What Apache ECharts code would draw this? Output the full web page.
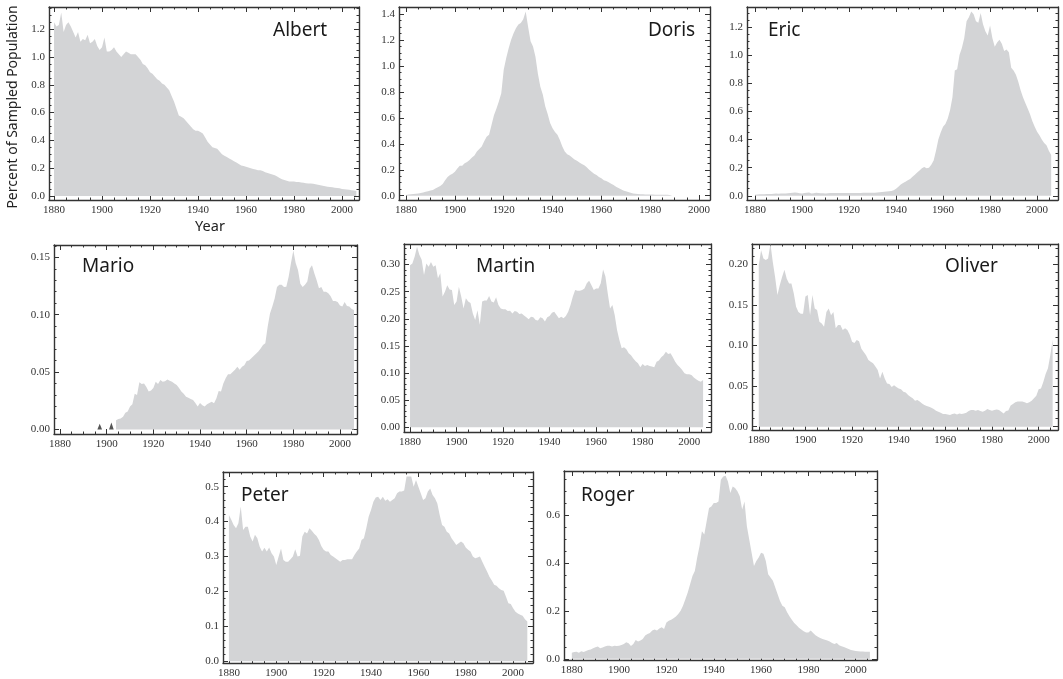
<!DOCTYPE html>
<html>
<head>
<meta charset="utf-8">
<script src="https://cdn.jsdelivr.net/npm/echarts@6/dist/echarts.min.js"></script>
<style>
  html, body { margin: 0; padding: 0; background: #fff; }
  #chart { width: 1063px; height: 679px; }
</style>
</head>
<body>
<div id="chart"></div>
<script>
// percent of sampled population, one value per year
var albertStart = 1880
var albert = [
  1.25, 1.22, 1.23, 1.32, 1.18, 1.23, 1.25, 1.22, 1.18, 1.14,
  1.18, 1.11, 1.13, 1.12, 1.16, 1.10, 1.11, 1.13, 1.08, 1.05,
  1.07, 1.14, 1.04, 1.04, 1.05, 1.07, 1.04, 1.02, 1.00, 1.02,
  1.04, 1.03, 1.02, 1.02, 1.02, 1.00, 0.98, 0.95, 0.94, 0.92,
  0.89, 0.88, 0.86, 0.84, 0.83, 0.81, 0.80, 0.78, 0.76, 0.72,
  0.68, 0.63, 0.58, 0.57, 0.56, 0.54, 0.52, 0.50, 0.48, 0.47,
  0.47, 0.46, 0.45, 0.42, 0.39, 0.37, 0.35, 0.345, 0.34, 0.32,
  0.30, 0.29, 0.28, 0.27, 0.26, 0.25, 0.24, 0.23, 0.22, 0.215,
  0.21, 0.205, 0.20, 0.195, 0.19, 0.185, 0.185, 0.18, 0.17, 0.165,
  0.16, 0.155, 0.15, 0.14, 0.13, 0.12, 0.115, 0.11, 0.105, 0.105,
  0.105, 0.10, 0.10, 0.097, 0.095, 0.092, 0.09, 0.09, 0.088, 0.085,
  0.08, 0.077, 0.073, 0.07, 0.067, 0.065, 0.062, 0.06, 0.057, 0.055,
  0.05, 0.049, 0.047, 0.045, 0.042, 0.039, 0.036
]
var dorisStart = 1880
var doris = [
  0.006, 0.01, 0.012, 0.014, 0.016, 0.018, 0.02, 0.025, 0.03, 0.035,
  0.04, 0.045, 0.055, 0.065, 0.075, 0.09, 0.12, 0.145, 0.16, 0.17,
  0.185, 0.21, 0.23, 0.23, 0.25, 0.26, 0.275, 0.295, 0.31, 0.34,
  0.36, 0.38, 0.42, 0.455, 0.47, 0.545, 0.62, 0.67, 0.725, 0.79,
  0.97, 1.06, 1.135, 1.20, 1.25, 1.29, 1.32, 1.33, 1.36, 1.42,
  1.30, 1.19, 1.15, 1.07, 0.94, 0.84, 0.78, 0.69, 0.63, 0.56,
  0.52, 0.49, 0.47, 0.43, 0.38, 0.34, 0.32, 0.31, 0.295, 0.28,
  0.27, 0.255, 0.245, 0.235, 0.22, 0.20, 0.185, 0.17, 0.16, 0.145,
  0.135, 0.12, 0.113, 0.103, 0.093, 0.083, 0.07, 0.06, 0.05, 0.04,
  0.035, 0.028, 0.022, 0.018, 0.015, 0.013, 0.012, 0.011, 0.010, 0.010,
  0.009, 0.009, 0.008, 0.008, 0.008, 0.007, 0.007, 0.007, 0.006, 0.006
]
var ericStart = 1880
var eric = [
  0.008, 0.009, 0.01, 0.01, 0.011, 0.012, 0.012, 0.013, 0.015, 0.016,
  0.015, 0.016, 0.017, 0.016, 0.018, 0.019, 0.021, 0.024, 0.022, 0.018,
  0.017, 0.02, 0.022, 0.024, 0.016, 0.018, 0.021, 0.019, 0.018, 0.018,
  0.017, 0.018, 0.02, 0.02, 0.019, 0.019, 0.019, 0.02, 0.019, 0.019,
  0.019, 0.02, 0.02, 0.02, 0.02, 0.02, 0.021, 0.021, 0.021, 0.021,
  0.022, 0.022, 0.023, 0.025, 0.027, 0.028, 0.03, 0.032, 0.034, 0.04,
  0.05, 0.065, 0.08, 0.09, 0.10, 0.11, 0.12, 0.135, 0.15, 0.165,
  0.18, 0.195, 0.205, 0.195, 0.20, 0.22, 0.25, 0.32, 0.40, 0.45,
  0.49, 0.51, 0.55, 0.61, 0.70, 0.89, 0.90, 1.00, 1.05, 1.12,
  1.24, 1.27, 1.31, 1.29, 1.24, 1.23, 1.30, 1.22, 1.17, 1.14,
  1.21, 1.12, 1.06, 1.09, 1.11, 1.08, 1.03, 1.04, 1.02, 0.91,
  0.89, 0.86, 0.81, 0.75, 0.70, 0.66, 0.62, 0.58, 0.53, 0.49,
  0.455, 0.43, 0.40, 0.375, 0.36, 0.32, 0.29
]
var marioStart = 1904
var mario = [
  0.008, 0.009, 0.0095, 0.011, 0.0145, 0.0155,
  0.020, 0.022, 0.031, 0.030, 0.041, 0.0395, 0.040, 0.037, 0.033, 0.034,
  0.036, 0.0415, 0.0395, 0.043, 0.0415, 0.042, 0.0435, 0.0425, 0.0415, 0.040,
  0.0387, 0.036, 0.033, 0.031, 0.0285, 0.0276, 0.0265, 0.0256, 0.023, 0.020,
  0.023, 0.021, 0.020, 0.022, 0.023, 0.024, 0.0227, 0.027, 0.0334, 0.033,
  0.040, 0.0445, 0.048, 0.048, 0.050, 0.052, 0.0545, 0.052, 0.0545, 0.056,
  0.0596, 0.060, 0.062, 0.064, 0.066, 0.068, 0.0706, 0.0735, 0.075, 0.0895,
  0.101, 0.107, 0.114, 0.124, 0.126, 0.126, 0.124, 0.1244, 0.133, 0.145,
  0.156, 0.145, 0.139, 0.127, 0.124, 0.126, 0.129, 0.140, 0.143, 0.136,
  0.130, 0.123, 0.124, 0.120, 0.120, 0.1186, 0.116, 0.112, 0.112, 0.111,
  0.108, 0.107, 0.111, 0.1075, 0.107, 0.105, 0.104
]
// two isolated early years for Mario
var marioEarlyYears = [1897, 1902]
var marioEarly = [0.005, 0.006]
var martinStart = 1880
var martin = [
  0.299, 0.302, 0.315, 0.333, 0.318, 0.309, 0.281, 0.302, 0.296, 0.305,
  0.296, 0.299, 0.275, 0.284, 0.241, 0.250, 0.262, 0.254, 0.253, 0.2255,
  0.232, 0.259, 0.241, 0.219, 0.238, 0.232, 0.229, 0.210, 0.198, 0.216,
  0.189, 0.232, 0.234, 0.234, 0.242, 0.232, 0.230, 0.240, 0.2255, 0.219,
  0.2175, 0.2175, 0.2145, 0.215, 0.210, 0.2145, 0.213, 0.209, 0.210, 0.206,
  0.203, 0.199, 0.204, 0.203, 0.198, 0.197, 0.203, 0.201, 0.195, 0.203,
  0.205, 0.211, 0.213, 0.207, 0.201, 0.204, 0.201, 0.205, 0.213, 0.2255,
  0.241, 0.253, 0.252, 0.252, 0.253, 0.256, 0.2655, 0.270, 0.262, 0.253,
  0.256, 0.256, 0.2655, 0.291, 0.278, 0.247, 0.219, 0.2255, 0.207, 0.1795,
  0.161, 0.1457, 0.1475, 0.144, 0.1365, 0.133, 0.127, 0.122, 0.118, 0.1106,
  0.1168, 0.113, 0.115, 0.113, 0.112, 0.1106, 0.121, 0.123, 0.129, 0.133,
  0.1395, 0.135, 0.1365, 0.129, 0.121, 0.115, 0.1106, 0.1057, 0.0996, 0.098,
  0.098, 0.0965, 0.092, 0.0885, 0.086, 0.084, 0.087
]
var oliverStart = 1880
var oliver = [
  0.199, 0.217, 0.207, 0.205, 0.207, 0.225, 0.203, 0.184, 0.162, 0.174,
  0.184, 0.193, 0.182, 0.176, 0.176, 0.164, 0.1475, 0.141, 0.139, 0.139,
  0.16, 0.162, 0.137, 0.162, 0.1455, 0.1435, 0.129, 0.127, 0.123, 0.141,
  0.1455, 0.137, 0.141, 0.121, 0.125, 0.125, 0.119, 0.121, 0.119, 0.113,
  0.1045, 0.103, 0.1066, 0.105, 0.096, 0.092, 0.088, 0.082, 0.080, 0.078,
  0.074, 0.0697, 0.0594, 0.0676, 0.0594, 0.0533, 0.0525, 0.049, 0.051, 0.049,
  0.047, 0.046, 0.043, 0.042, 0.039, 0.037, 0.035, 0.032, 0.033, 0.031,
  0.0287, 0.0266, 0.0254, 0.0246, 0.0234, 0.0217, 0.0197, 0.0184, 0.0172, 0.0156,
  0.0156, 0.0152, 0.0143, 0.0156, 0.0164, 0.0152, 0.0164, 0.0156, 0.0164, 0.0172,
  0.0193, 0.0205, 0.0205, 0.0197, 0.0205, 0.0193, 0.0184, 0.0197, 0.0217, 0.0205,
  0.0197, 0.0205, 0.0213, 0.0205, 0.0184, 0.0164, 0.0195, 0.020, 0.026, 0.028,
  0.030, 0.031, 0.031, 0.031, 0.030, 0.029, 0.030, 0.032, 0.035, 0.038,
  0.046, 0.047, 0.055, 0.065, 0.072, 0.088, 0.107
]
var peterStart = 1880
var peter = [
  0.419, 0.405, 0.390, 0.381, 0.395, 0.443, 0.376, 0.385, 0.385, 0.357,
  0.343, 0.362, 0.352, 0.328, 0.314, 0.325, 0.314, 0.326, 0.309, 0.300,
  0.276, 0.300, 0.323, 0.290, 0.285, 0.285, 0.292, 0.300, 0.321, 0.300,
  0.302, 0.357, 0.371, 0.366, 0.381, 0.374, 0.365, 0.359, 0.347, 0.330,
  0.319, 0.314, 0.314, 0.304, 0.300, 0.295, 0.290, 0.285, 0.290, 0.290,
  0.292, 0.292, 0.292, 0.304, 0.314, 0.323, 0.347, 0.352, 0.381, 0.414,
  0.433, 0.457, 0.469, 0.471, 0.462, 0.471, 0.460, 0.464, 0.457, 0.462,
  0.467, 0.481, 0.486, 0.486, 0.489, 0.529, 0.529, 0.529, 0.500, 0.519,
  0.500, 0.481, 0.462, 0.467, 0.486, 0.495, 0.476, 0.467, 0.452, 0.419,
  0.390, 0.385, 0.371, 0.366, 0.352, 0.343, 0.333, 0.338, 0.343, 0.338,
  0.326, 0.319, 0.314, 0.300, 0.295, 0.297, 0.300, 0.285, 0.271, 0.257,
  0.242, 0.231, 0.219, 0.216, 0.209, 0.204, 0.202, 0.185, 0.166, 0.164,
  0.152, 0.142, 0.137, 0.133, 0.130, 0.120, 0.114
]
var rogerStart = 1880
var roger = [
  0.025, 0.028, 0.030, 0.025, 0.032, 0.028, 0.033, 0.037, 0.039, 0.044,
  0.048, 0.051, 0.044, 0.047, 0.051, 0.055, 0.055, 0.051, 0.055, 0.053,
  0.055, 0.058, 0.062, 0.069, 0.065, 0.053, 0.062, 0.079, 0.072, 0.076,
  0.083, 0.097, 0.104, 0.108, 0.118, 0.122, 0.118, 0.127, 0.132, 0.125,
  0.152, 0.159, 0.163, 0.169, 0.177, 0.187, 0.201, 0.222, 0.249, 0.277,
  0.312, 0.346, 0.367, 0.423, 0.471, 0.533, 0.520, 0.575, 0.630, 0.637,
  0.651, 0.651, 0.658, 0.748, 0.762, 0.765, 0.741, 0.693, 0.720, 0.714,
  0.700, 0.679, 0.624, 0.658, 0.554, 0.499, 0.443, 0.388, 0.409, 0.423,
  0.443, 0.439, 0.409, 0.353, 0.340, 0.326, 0.298, 0.270, 0.242, 0.222,
  0.215, 0.195, 0.178, 0.163, 0.15, 0.14, 0.13, 0.122, 0.115, 0.11,
  0.11, 0.118, 0.108, 0.098, 0.092, 0.087, 0.083, 0.08, 0.077, 0.072,
  0.066, 0.062, 0.066, 0.057, 0.052, 0.049, 0.045, 0.041, 0.037, 0.035,
  0.033, 0.032, 0.031, 0.031, 0.030, 0.030, 0.029
]

// tick labels
var xLabels = [1880, 1900, 1920, 1940, 1960, 1980, 2000]
var yLabelsBig = [0, 0.2, 0.4, 0.6, 0.8, 1.0, 1.2]
var yLabelsDoris = [0, 0.2, 0.4, 0.6, 0.8, 1.0, 1.2, 1.4]
var yLabelsMario = [0, 0.05, 0.10, 0.15]
var yLabelsMartin = [0, 0.05, 0.10, 0.15, 0.20, 0.25, 0.30]
var yLabelsOliver = [0, 0.05, 0.10, 0.15, 0.20]
var yLabelsPeter = [0, 0.1, 0.2, 0.3, 0.4, 0.5]
var yLabelsRoger = [0, 0.2, 0.4, 0.6]

var panels = [
  { name: 'Albert', values: albert, start: albertStart, yLabels: yLabelsBig, dec: 1,
    box: [49, 7, 310, 193], xr: [1877.9, 2007.1], yr: [-0.029, 1.36], yMinor: 0.05, nameAt: [273, 31] },
  { name: 'Doris', values: doris, start: dorisStart, yLabels: yLabelsDoris, dec: 1,
    box: [399, 7, 311, 193], xr: [1877.1, 2004.5], yr: [-0.033, 1.454], yMinor: 0.05, nameAt: [648, 31] },
  { name: 'Eric', values: eric, start: ericStart, yLabels: yLabelsBig, dec: 1,
    box: [747, 7, 311, 193], xr: [1876.6, 2008.9], yr: [-0.03, 1.342], yMinor: 0.05, nameAt: [768, 31] },
  { name: 'Mario', values: mario, start: marioStart, yLabels: yLabelsMario, dec: 2,
    box: [54, 245, 303, 189], xr: [1877.4, 2007.3], yr: [-0.004, 0.1607], yMinor: 0.01, nameAt: [82, 267] },
  { name: 'Martin', values: martin, start: martinStart, yLabels: yLabelsMartin, dec: 2,
    box: [404, 244, 307, 188], xr: [1877.4, 2009.4], yr: [-0.0087, 0.338], yMinor: 0.01, nameAt: [476, 267] },
  { name: 'Oliver', values: oliver, start: oliverStart, yLabels: yLabelsOliver, dec: 2,
    box: [752, 244, 306, 186], xr: [1877.1, 2008.3], yr: [-0.004, 0.2247], yMinor: 0.01, nameAt: [945, 267] },
  { name: 'Peter', values: peter, start: peterStart, yLabels: yLabelsPeter, dec: 1,
    box: [223, 472, 310, 191], xr: [1877.5, 2008.4], yr: [-0.005, 0.542], yMinor: 0.02, nameAt: [241, 496] },
  { name: 'Roger', values: roger, start: rogerStart, yLabels: yLabelsRoger, dec: 1,
    box: [564, 471, 313, 189], xr: [1876.7, 2009], yr: [-0.005, 0.785], yMinor: 0.05, nameAt: [581, 496] }
]

var frameColor = '#333'
var fillColor = '#d3d4d6'
var tickFont = { fontFamily: 'Liberation Serif', fontSize: 11, color: '#333' }

function steps(lo, hi, step) {
  var out = []
  for (var k = Math.ceil(lo / step - 1e-9); k * step <= hi + 1e-9; k++) out.push(+(k * step).toFixed(6))
  return out
}

function axis(dim, gi, pos, range, ticks, len, labels, fmt) {
  return {
    type: 'value', gridIndex: gi, position: pos, min: range[0], max: range[1],
    axisLine: { show: len > 3, onZero: false, lineStyle: { color: frameColor, width: 1.4 } },
    splitLine: { show: false },
    axisTick: { show: true, inside: true, length: len, customValues: ticks, lineStyle: { color: frameColor, width: 1 } },
    axisLabel: labels ? Object.assign({ show: true, customValues: labels, margin: dim === 'x' ? 5 : 4, formatter: fmt }, tickFont) : { show: false }
  }
}

var option = { animation: false, backgroundColor: '#fff', grid: [], xAxis: [], yAxis: [], series: [], graphic: [] }

panels.forEach(function (p, i) {
  option.grid.push({ left: p.box[0], top: p.box[1], width: p.box[2], height: p.box[3], containLabel: false, outerBoundsMode: 'none' })
  var xi = option.xAxis.length
  var yi = option.yAxis.length
  var xMinor = steps(p.xr[0], p.xr[1], 5)
  var yMinor = steps(0, p.yr[1], p.yMinor)
  var yFmt = function (v) { return v.toFixed(p.dec) }
  option.xAxis.push(axis('x', i, 'bottom', p.xr, xLabels, 5, xLabels, function (v) { return String(v) }))
  option.xAxis.push(axis('x', i, 'bottom', p.xr, xMinor, 2.5, null))
  option.xAxis.push(axis('x', i, 'top', p.xr, xLabels, 5, null))
  option.xAxis.push(axis('x', i, 'top', p.xr, xMinor, 2.5, null))
  option.yAxis.push(axis('y', i, 'left', p.yr, p.yLabels, 5, p.yLabels, yFmt))
  option.yAxis.push(axis('y', i, 'left', p.yr, yMinor, 2.5, null))
  option.yAxis.push(axis('y', i, 'right', p.yr, p.yLabels, 5, null))
  option.yAxis.push(axis('y', i, 'right', p.yr, yMinor, 2.5, null))

  option.series.push({
    type: 'line', xAxisIndex: xi, yAxisIndex: yi,
    data: p.values.map(function (v, k) { return [p.start + k, v] }),
    showSymbol: false, silent: true,
    lineStyle: { width: 0 },
    areaStyle: { color: fillColor, opacity: 1 }
  })

  if (p.name === 'Mario') {
    var spikes = []
    marioEarlyYears.forEach(function (yr, k) {
      spikes.push([yr - 1, 0], [yr, marioEarly[k]], [yr + 1, 0], [yr + 1, null])
    })
    option.series.push({
      type: 'line', xAxisIndex: xi, yAxisIndex: yi, data: spikes,
      showSymbol: false, silent: true, connectNulls: false,
      lineStyle: { width: 0 },
      areaStyle: { color: '#555', opacity: 1 }
    })
  }

  option.graphic.push({
    type: 'text', x: p.nameAt[0], y: p.nameAt[1], silent: true,
    style: { text: p.name, fill: '#1a1a1a', font: '19px "Noto Sans"', textAlign: 'left', textVerticalAlign: 'middle' }
  })
})

option.graphic.push({
  type: 'text', x: 13, y: 107, rotation: Math.PI / 2, silent: true,
  style: { text: 'Percent of Sampled Population', fill: '#222', font: '14px "Noto Sans"', textAlign: 'center', textVerticalAlign: 'middle' }
})
option.graphic.push({
  type: 'text', x: 210, y: 227, silent: true,
  style: { text: 'Year', fill: '#222', font: '14.5px "Noto Sans"', textAlign: 'center', textVerticalAlign: 'middle' }
})

var chart = echarts.init(document.getElementById('chart'))
chart.setOption(option)
</script>
</body>
</html>
